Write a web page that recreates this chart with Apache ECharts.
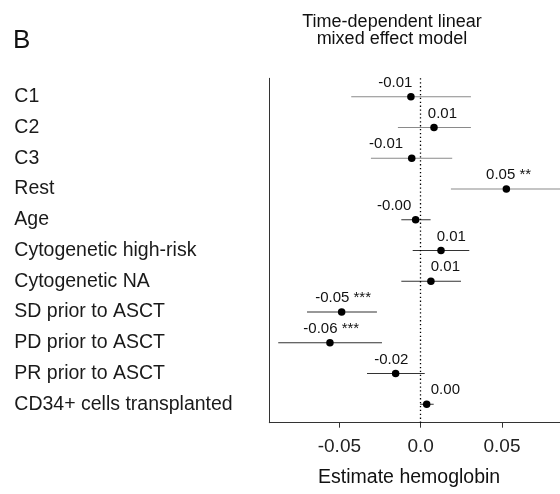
<!DOCTYPE html>
<html>
<head>
<meta charset="utf-8">
<script src="https://cdn.jsdelivr.net/npm/echarts@6/dist/echarts.min.js"></script>
<style>
html,body{margin:0;padding:0;background:#fff;}
#chart{width:560px;height:494px;}
</style>
</head>
<body>
<div id="chart"></div>
<script>
var categories = ["C1","C2","C3","Rest","Age","Cytogenetic high-risk","Cytogenetic NA","SD prior to ASCT","PD prior to ASCT","PR prior to ASCT","CD34+ cells transplanted"];
var estimate = [-0.0060, 0.0082, -0.0055, 0.0527, -0.0031, 0.0125, 0.0063, -0.0486, -0.0558, -0.0154, 0.0037];
var lower    = [-0.0427, -0.0140, -0.0306, 0.0186, -0.0119, -0.0049, -0.0119, -0.0699, -0.0876, -0.0330, -0.0004];
var upper    = [0.0309, 0.0309, 0.0194, 0.0900, 0.0061, 0.0299, 0.0248, -0.0269, -0.0238, 0.0025, 0.0080];
var estLabels = ["-0.01","0.01","-0.01","0.05 **","-0.00","0.01","0.01","-0.05 ***","-0.06 ***","-0.02","0.00"];
var labelX   = [-0.0156, 0.0134, -0.0213, 0.0541, -0.0163, 0.0188, 0.0152, -0.0477, -0.0550, -0.0181, 0.0152];
var lineGroup = [0,0,0,0,1,1,1,1,1,1,1];
var tickValues = [-0.05, 0, 0.05];
var tickLabels = ["-0.05", "0.0", "0.05"];
var xMin = -0.0931, xMax = 0.0857;

var FONT = "'Liberation Sans', Arial, Helvetica, sans-serif";
var rows = categories.map(function(c, i){ return i + 1; });

var ciData = categories.map(function(c, i){ return [lower[i], upper[i], rows[i], lineGroup[i]]; });
var ptData = categories.map(function(c, i){ return [estimate[i], rows[i]]; });
var lbData = categories.map(function(c, i){ return [labelX[i], rows[i], estLabels[i]]; });

var chart = echarts.init(document.getElementById('chart'), null, {renderer:'canvas'});
chart.setOption({
  animation: false,
  backgroundColor: '#ffffff',
  title: [
    { text: 'B', left: 8, top: 23, textStyle: { fontFamily: FONT, fontSize: 26, fontWeight: 'normal', color: '#111' } },
    { text: 'Time-dependent linear\nmixed effect model', left: 387, top: 9, textAlign: 'center',
      textStyle: { fontFamily: FONT, fontSize: 18, fontWeight: 'normal', color: '#111', lineHeight: 17 } }
  ],
  grid: { left: 269.3, right: 0, top: 78.3, bottom: 71.3, containLabel: false },
  xAxis: {
    type: 'value', min: xMin, max: xMax,
    name: 'Estimate hemoglobin', nameLocation: 'middle', nameGap: 45,
    nameTextStyle: { fontFamily: FONT, fontSize: 19.5, color: '#111', padding: [0, 11, 0, 0] },
    axisLine: { show: true, onZero: false, lineStyle: { color: '#333', width: 1 } },
    axisTick: { show: true, length: 5, customValues: tickValues, lineStyle: { color: '#333', width: 1 } },
    axisLabel: { show: true, customValues: tickValues, margin: 15, fontFamily: FONT, fontSize: 19, color: '#222',
      formatter: function(v){ var k = tickValues.findIndex(function(t){ return Math.abs(t - v) < 1e-9; }); return k >= 0 ? tickLabels[k] : ''; } },
    splitLine: { show: false }
  },
  yAxis: {
    type: 'value', min: 0.4, max: 11.6, inverse: true,
    axisLine: { show: true, onZero: false, lineStyle: { color: '#333', width: 1 } },
    axisTick: { show: false },
    axisLabel: { show: true, customValues: rows, align: 'left', margin: 255, fontFamily: FONT, fontSize: 19.5, color: '#1a1a1a',
      formatter: function(v){ return categories[Math.round(v) - 1] || ''; } },
    splitLine: { show: false }
  },
  series: [
    {
      type: 'custom', clip: true,
      data: ciData,
      renderItem: function(params, api){
        var a = api.coord([api.value(0), api.value(2)]);
        var b = api.coord([api.value(1), api.value(2)]);
        var grp = api.value(3);
        return { type: 'line', shape: { x1: a[0], y1: a[1], x2: b[0], y2: b[1] },
          style: { stroke: grp === 0 ? '#8a8a8a' : '#333333', lineWidth: 1.1 } };
      },
      markLine: {
        silent: true, symbol: ['none','none'], label: { show: false },
        lineStyle: { type: [1.3, 2.6], color: '#000', width: 1.3, opacity: 1 },
        data: [{ xAxis: 0 }]
      },
      z: 2
    },
    {
      type: 'scatter', data: ptData, symbol: 'circle', symbolSize: 7.5,
      itemStyle: { color: '#000', opacity: 1 }, z: 3
    },
    {
      type: 'scatter', data: lbData, symbolSize: 0, z: 4,
      itemStyle: { opacity: 1, color: '#000' },
      label: { show: true, position: 'inside', offset: [0, -14], fontFamily: FONT, fontSize: 15, color: '#111', opacity: 1,
        formatter: function(p){ return p.data[2]; } }
    }
  ]
});
</script>
</body>
</html>
